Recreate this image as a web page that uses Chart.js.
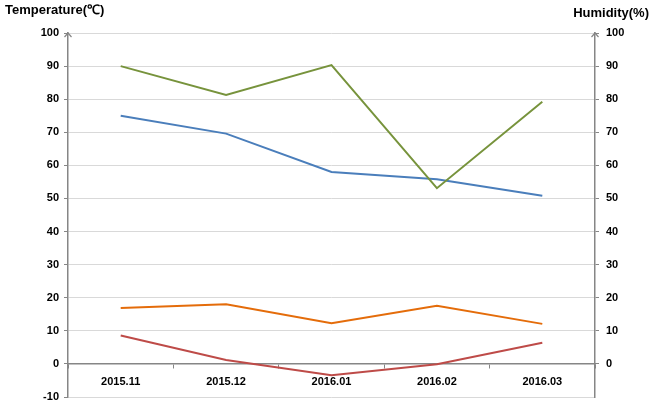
<!DOCTYPE html>
<html>
<head>
<meta charset="utf-8">
<script src="https://cdn.jsdelivr.net/npm/chart.js@4.4.1/dist/chart.umd.min.js"></script>
<style>
  html, body { margin:0; padding:0; background:#fff; }
  #wrap { width:662px; height:407px; position:relative; }
</style>
</head>
<body>
<div id="wrap"><canvas id="c"></canvas></div>
<script>
// ── données ──
const months = ['2015.11', '2015.12', '2016.01', '2016.02', '2016.03'];
const humGreen = [90, 81.3, 90.3, 53.1, 79.2];
const humBlue = [75, 69.6, 58, 55.8, 50.8];
const tempOrange = [16.9, 18, 12.3, 17.6, 12.1];
const tempRed = [8.6, 1.2, -3.4, -0.1, 6.4];
const leftTicks = [-10, 0, 10, 20, 30, 40, 50, 60, 70, 80, 90, 100];
const rightTicks = [0, 10, 20, 30, 40, 50, 60, 70, 80, 90, 100];

const FONT = { family: "'Liberation Sans', Arial, sans-serif", size: 11, weight: 'bold' };
const AXIS = '#868686';
const GRID = '#d9d9d9';

const line = (data, color, axis) => ({
  data, borderColor: color, backgroundColor: color, borderWidth: 2,
  pointRadius: 0, tension: 0, yAxisID: axis
});

// largeur fixe des axes Y, sans marge auto en haut/bas
const fixY = w => s => { s.width = w; s.paddingTop = 0; s.paddingBottom = 0; };

// ── titres d'axes + flèches ──
const decor = {
  id: 'decor',
  afterDraw(chart) {
    const { ctx, chartArea: a } = chart;
    ctx.save();
    ctx.fillStyle = '#000';
    ctx.font = "bold 13px 'Liberation Sans', Arial, sans-serif";
    ctx.textBaseline = 'middle';
    ctx.textAlign = 'left';
    ctx.fillText('Temperature(℃)', 5, 10);
    ctx.textAlign = 'right';
    ctx.fillText('Humidity(%)', 649, 13);
    ctx.strokeStyle = AXIS;
    ctx.lineWidth = 1.2;
    [a.left, a.right].forEach(x => {
      ctx.beginPath();
      ctx.moveTo(x - 3.5, a.top + 4);
      ctx.lineTo(x, a.top);
      ctx.lineTo(x + 3.5, a.top + 4);
      ctx.stroke();
    });
    ctx.restore();
  }
};

new Chart(document.getElementById('c'), {
  type: 'line',
  data: {
    labels: months,
    datasets: [
      line(humGreen, '#77933C', 'y1'),
      line(humBlue, '#4A7EBB', 'y1'),
      line(tempOrange, '#E46C0A', 'y'),
      line(tempRed, '#BE4B48', 'y')
    ]
  },
  options: {
    responsive: true, maintainAspectRatio: false, animation: false,
    layout: { padding: { top: 33, bottom: 10, left: 0, right: 0 } },
    plugins: { legend: { display: false }, tooltip: { enabled: false } },
    scales: {
      x: {
        position: { y: 0 },
        offset: true,
        grid: { display: true, drawOnChartArea: false, drawTicks: true, tickLength: 4, offset: true, color: AXIS },
        border: { color: AXIS, width: 1.5 },
        ticks: { color: '#000', font: FONT, padding: 7, maxRotation: 0 }
      },
      y: {
        position: 'left',
        min: -10, max: 100,
        afterBuildTicks: s => { s.ticks = leftTicks.map(v => ({ value: v })); },
        afterFit: fixY(68),
        grid: { color: GRID, lineWidth: 1, tickLength: 4, tickColor: AXIS },
        border: { color: AXIS, width: 1.5 },
        ticks: { color: '#000', font: FONT, padding: 5 }
      },
      y1: {
        position: 'right',
        min: -10, max: 100,
        afterBuildTicks: s => { s.ticks = rightTicks.map(v => ({ value: v })); },
        afterFit: fixY(67),
        grid: { drawOnChartArea: false, tickLength: 4, color: AXIS },
        border: { color: AXIS, width: 1.5 },
        ticks: { color: '#000', font: FONT, padding: 7 }
      }
    }
  },
  plugins: [decor]
});
</script>
</body>
</html>
